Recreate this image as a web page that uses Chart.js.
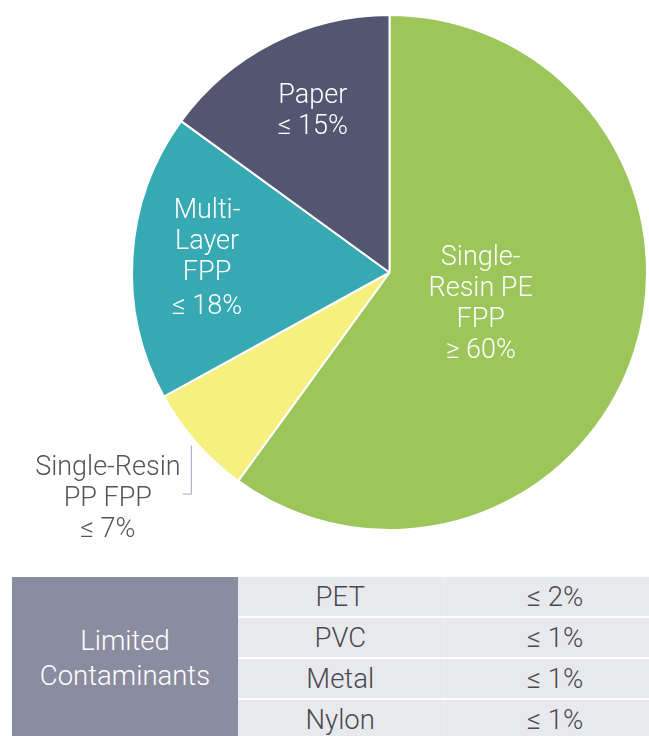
<!DOCTYPE html>
<html>
<head>
<meta charset="utf-8">
<script src="https://cdn.jsdelivr.net/npm/chart.js@4"></script>
<style>
    html, body { margin: 0; padding: 0; background: #fff; overflow: hidden; }
    body { width: 649px; height: 736px; position: relative; font-family: Roboto, "Open Sans", sans-serif; }
    #chartBox { position: absolute; left: 0; top: 0; width: 649px; height: 545px; }
    #contam { position: absolute; left: 12px; top: 577px; width: 655px; table-layout: fixed; border-collapse: collapse; font-weight: 300; }
    #contam td { background: #e8e9ed; color: #4a4a4f; font-size: 27.5px; text-align: center; height: 39px; padding: 0; }
    #contam tr + tr td { border-top: 2px solid #fff; }
    #contam td.head { background: #8a8c9f; color: #fff; line-height: 35px; border-top: none; }
    #contam td.name { border-right: 1px solid #f0f1f4; }
</style>
</head>
<body>
<div id="chartBox"><canvas id="pieChart"></canvas></div>
<table id="contam">
    <colgroup><col style="width:226px"><col style="width:205px"><col style="width:224px"></colgroup>
</table>
<script>
// pie slices, clockwise from 12 o'clock
const labels = ['Single-Resin PE FPP', 'Single-Resin PP FPP', 'Multi-Layer FPP', 'Paper'];
const shares = [60, 7, 18, 15];
const colors = ['#9cc55a', '#f6f07f', '#36a9b3', '#525670'];
const labelLines = [
    ['Single-', 'Resin PE', 'FPP', '\u2265 60%'],
    ['Single-Resin', 'PP FPP', '\u2264 7%'],
    ['Multi-', 'Layer', 'FPP', '\u2264 18%'],
    ['Paper', '\u2264 15%']
];

// table below the pie
const tableTitle = ['Limited', 'Contaminants'];
const contaminants = ['PET', 'PVC', 'Metal', 'Nylon'];
const contamShares = ['\u2264 2%', '\u2264 1%', '\u2264 1%', '\u2264 1%'];

// where to put each label: fraction of radius along the slice middle (+ small nudge)
const labelPlace = [
    { r: 0.36, dx: 3, dy: 4, color: '#fff' },
    { r: 1.405, turn: 0.044, color: '#555559', outside: true },
    { r: 0.71, dy: -2, color: '#fff', lastGap: 3 },
    { r: 0.69, dx: 4, dy: -2, color: '#fff' }
];

const sliceLabels = {
    id: 'sliceLabels',
    afterDatasetsDraw(chart) {
        const ctx = chart.ctx;
        const arcs = chart.getDatasetMeta(0).data;
        ctx.save();
        ctx.font = '300 27px Roboto, "Open Sans", sans-serif';
        ctx.textAlign = 'center';
        ctx.textBaseline = 'middle';
        arcs.forEach(function (arc, i) {
            const p = arc.getProps(['x', 'y', 'startAngle', 'endAngle', 'outerRadius'], true);
            const place = labelPlace[i];
            const mid = (p.startAngle + p.endAngle) / 2 + (place.turn || 0);
            const cx = p.x + Math.cos(mid) * p.outerRadius * place.r + (place.dx || 0);
            const cy = p.y + Math.sin(mid) * p.outerRadius * place.r + (place.dy || 0);
            const lines = labelLines[i];
            const lh = 31;
            const total = (lines.length - 1) * lh + (place.lastGap || 0);
            let y = cy - total / 2;
            ctx.fillStyle = place.color;
            lines.forEach(function (line, j) {
                if (j === lines.length - 1 && place.lastGap) y += place.lastGap;
                ctx.fillText(line, cx, y);
                y += lh;
            });
            if (place.outside) {
                // little bracket pointing at the slice
                ctx.strokeStyle = '#a4a4b8';
                ctx.lineWidth = 1;
                ctx.beginPath();
                ctx.moveTo(cx + 83.5, cy - 54);
                ctx.lineTo(cx + 83.5, cy - 5.5);
                ctx.lineTo(cx + 75, cy - 5.5);
                ctx.stroke();
            }
        });
        ctx.restore();
    }
};

new Chart(document.getElementById('pieChart'), {
    type: 'pie',
    data: {
        labels: labels,
        datasets: [{
            data: shares,
            backgroundColor: colors,
            borderColor: '#ffffff',
            borderWidth: 2
        }]
    },
    options: {
        responsive: true,
        maintainAspectRatio: false,
        animation: false,
        layout: { padding: { left: 131, right: 1, top: 14, bottom: 14 } },
        plugins: {
            legend: { display: false },
            tooltip: { enabled: false }
        }
    },
    plugins: [sliceLabels]
});

const table = document.getElementById('contam');
contaminants.forEach(function (name, i) {
    const tr = document.createElement('tr');
    if (i === 0) {
        const head = document.createElement('td');
        head.className = 'head';
        head.rowSpan = contaminants.length;
        head.innerHTML = tableTitle.join('<br>');
        tr.appendChild(head);
    }
    const n = document.createElement('td');
    n.className = 'name';
    n.textContent = name;
    const v = document.createElement('td');
    v.className = 'val';
    v.textContent = contamShares[i];
    tr.appendChild(n);
    tr.appendChild(v);
    table.appendChild(tr);
});
</script>
</body>
</html>
